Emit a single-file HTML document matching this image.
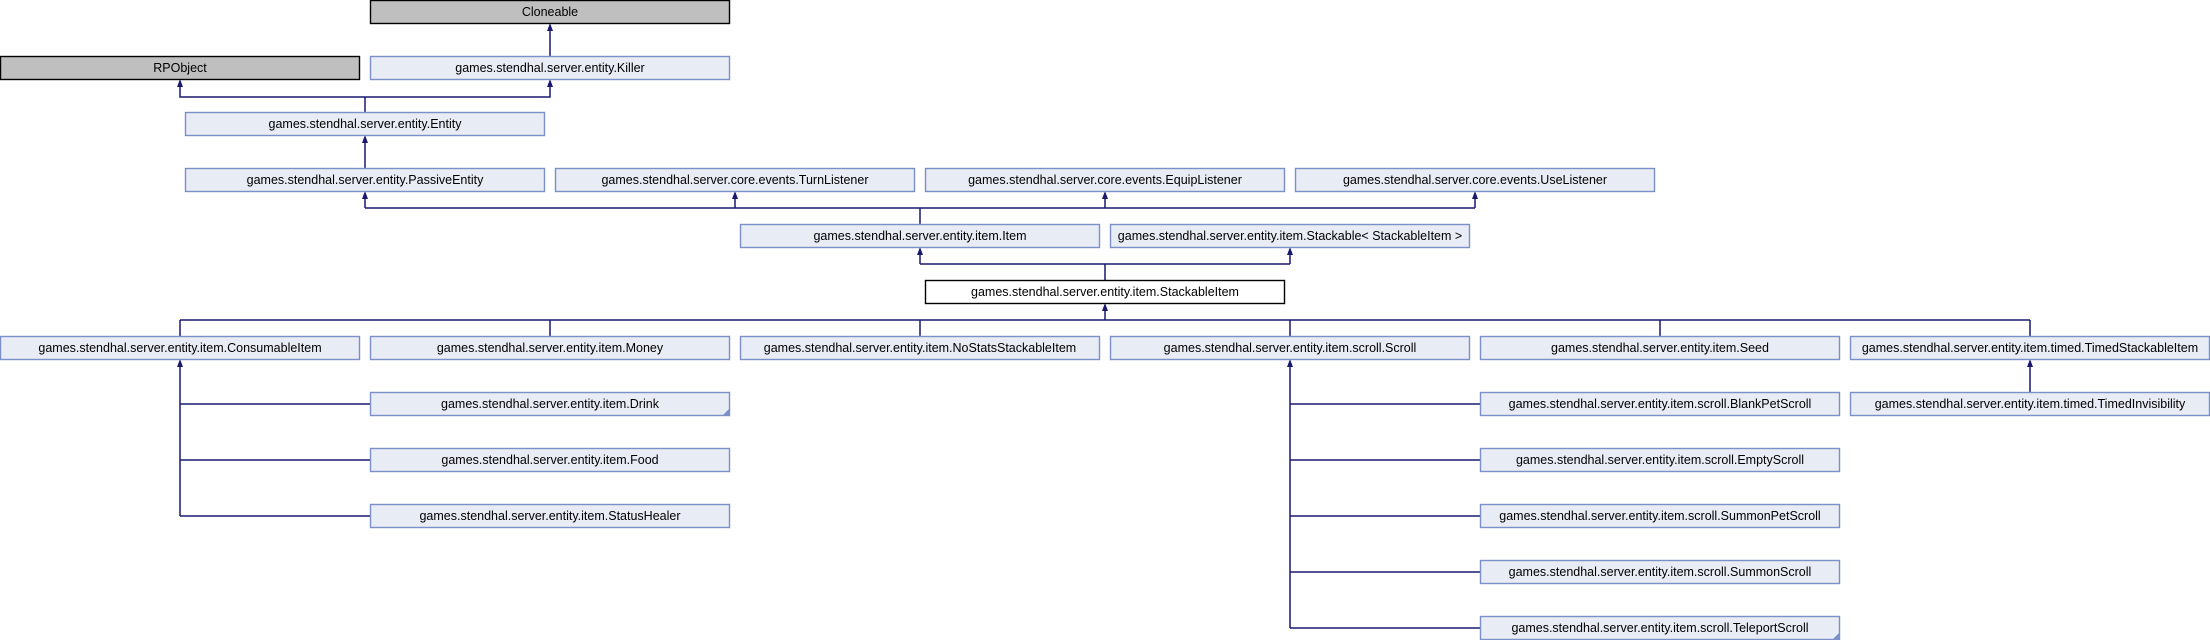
<!DOCTYPE html>
<html><head><meta charset="utf-8"><style>
html,body{margin:0;padding:0;background:#fff;width:2210px;height:640px;overflow:hidden}
svg text{font-family:"Liberation Sans",Arial,sans-serif;font-size:12.5px;fill:#000;text-anchor:middle}
.b{fill:#e8ecf5;stroke:#7b8fc9;stroke-width:1.4}
.g{fill:#bfbfbf;stroke:#000;stroke-width:1.4}
.w{fill:#fff;stroke:#000;stroke-width:1.4}
.l{stroke:#191970;stroke-width:1.5;fill:none}
.a{fill:#191970}
</style></head><body>
<svg width="2210" height="640" xmlns="http://www.w3.org/2000/svg">
<g class="l">
<path d="M550 56V29"/>
<path d="M365 112V97H180V85M365 97H550V85"/>
<path d="M365 168V141"/>
<path d="M920 224V208M365 208H1475M365 208V197M735 208V197M1105 208V197M1475 208V197"/>
<path d="M1105 280V264M920 264H1290M920 264V253M1290 264V253"/>
<path d="M1105 320V309M180 320H2030M180 320V336M550 320V336M920 320V336M1290 320V336M1660 320V336M2030 320V336"/>
<path d="M180 365V516M180 404H370M180 460H370M180 516H370"/>
<path d="M1290 365V628M1290 404H1480M1290 460H1480M1290 516H1480M1290 572H1480M1290 628H1480"/>
<path d="M2030 392V365"/>
</g>
<g class="a">
<path d="M550 23l-3 8h6z"/>
<path d="M180 79l-3 8h6z"/>
<path d="M550 79l-3 8h6z"/>
<path d="M365 135l-3 8h6z"/>
<path d="M365 191l-3 8h6z"/>
<path d="M735 191l-3 8h6z"/>
<path d="M1105 191l-3 8h6z"/>
<path d="M1475 191l-3 8h6z"/>
<path d="M920 247l-3 8h6z"/>
<path d="M1290 247l-3 8h6z"/>
<path d="M1105 303l-3 8h6z"/>
<path d="M180 359l-3 8h6z"/>
<path d="M1290 359l-3 8h6z"/>
<path d="M2030 359l-3 8h6z"/>
</g>
<rect class="g" x="370.5" y="0.5" width="359" height="23"/><text x="550" y="16">Cloneable</text>
<rect class="g" x="0.5" y="56.5" width="359" height="23"/><text x="180" y="72">RPObject</text>
<rect class="b" x="370.5" y="56.5" width="359" height="23"/><text x="550" y="72">games.stendhal.server.entity.Killer</text>
<rect class="b" x="185.5" y="112.5" width="359" height="23"/><text x="365" y="128">games.stendhal.server.entity.Entity</text>
<rect class="b" x="185.5" y="168.5" width="359" height="23"/><text x="365" y="184">games.stendhal.server.entity.PassiveEntity</text>
<rect class="b" x="555.5" y="168.5" width="359" height="23"/><text x="735" y="184">games.stendhal.server.core.events.TurnListener</text>
<rect class="b" x="925.5" y="168.5" width="359" height="23"/><text x="1105" y="184">games.stendhal.server.core.events.EquipListener</text>
<rect class="b" x="1295.5" y="168.5" width="359" height="23"/><text x="1475" y="184">games.stendhal.server.core.events.UseListener</text>
<rect class="b" x="740.5" y="224.5" width="359" height="23"/><text x="920" y="240">games.stendhal.server.entity.item.Item</text>
<rect class="b" x="1110.5" y="224.5" width="359" height="23"/><text x="1290" y="240">games.stendhal.server.entity.item.Stackable&lt; StackableItem &gt;</text>
<rect class="w" x="925.5" y="280.5" width="359" height="23"/><text x="1105" y="296">games.stendhal.server.entity.item.StackableItem</text>
<rect class="b" x="0.5" y="336.5" width="359" height="23"/><text x="180" y="352">games.stendhal.server.entity.item.ConsumableItem</text>
<rect class="b" x="370.5" y="336.5" width="359" height="23"/><text x="550" y="352">games.stendhal.server.entity.item.Money</text>
<rect class="b" x="740.5" y="336.5" width="359" height="23"/><text x="920" y="352">games.stendhal.server.entity.item.NoStatsStackableItem</text>
<rect class="b" x="1110.5" y="336.5" width="359" height="23"/><text x="1290" y="352">games.stendhal.server.entity.item.scroll.Scroll</text>
<rect class="b" x="1480.5" y="336.5" width="359" height="23"/><text x="1660" y="352">games.stendhal.server.entity.item.Seed</text>
<rect class="b" x="1850.5" y="336.5" width="359" height="23"/><text x="2030" y="352">games.stendhal.server.entity.item.timed.TimedStackableItem</text>
<rect class="b" x="370.5" y="392.5" width="359" height="23"/><text x="550" y="408">games.stendhal.server.entity.item.Drink</text>
<path d="M729 409v6h-6z" fill="#7b8fc9"/>
<rect class="b" x="370.5" y="448.5" width="359" height="23"/><text x="550" y="464">games.stendhal.server.entity.item.Food</text>
<rect class="b" x="370.5" y="504.5" width="359" height="23"/><text x="550" y="520">games.stendhal.server.entity.item.StatusHealer</text>
<rect class="b" x="1480.5" y="392.5" width="359" height="23"/><text x="1660" y="408">games.stendhal.server.entity.item.scroll.BlankPetScroll</text>
<rect class="b" x="1850.5" y="392.5" width="359" height="23"/><text x="2030" y="408">games.stendhal.server.entity.item.timed.TimedInvisibility</text>
<rect class="b" x="1480.5" y="448.5" width="359" height="23"/><text x="1660" y="464">games.stendhal.server.entity.item.scroll.EmptyScroll</text>
<rect class="b" x="1480.5" y="504.5" width="359" height="23"/><text x="1660" y="520">games.stendhal.server.entity.item.scroll.SummonPetScroll</text>
<rect class="b" x="1480.5" y="560.5" width="359" height="23"/><text x="1660" y="576">games.stendhal.server.entity.item.scroll.SummonScroll</text>
<rect class="b" x="1480.5" y="616.5" width="359" height="23"/><text x="1660" y="632">games.stendhal.server.entity.item.scroll.TeleportScroll</text>
<path d="M1839 633v6h-6z" fill="#7b8fc9"/>
</svg>
</body></html>
